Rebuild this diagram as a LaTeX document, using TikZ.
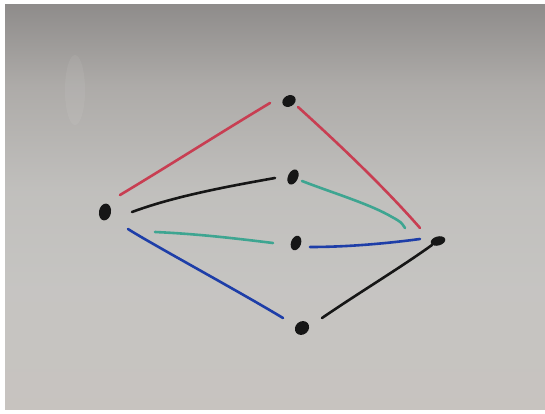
\documentclass[tikz,border=0pt]{standalone}
\usetikzlibrary{shapes.geometric,calc}
\definecolor{mred}{RGB}{200,62,82}
\definecolor{mteal}{RGB}{62,165,145}
\definecolor{mblue}{RGB}{30,62,168}
\definecolor{mblack}{RGB}{22,22,22}
\pgfdeclareverticalshading{board}{100bp}{
  rgb(0bp)=(0.78,0.765,0.75);
  rgb(25bp)=(0.78,0.765,0.75);
  rgb(40bp)=(0.775,0.77,0.76);
  rgb(52bp)=(0.755,0.75,0.74);
  rgb(65bp)=(0.68,0.67,0.66);
  rgb(75bp)=(0.56,0.55,0.545);
  rgb(100bp)=(0.56,0.55,0.545)}
\tikzset{
  dot/.style={ellipse, fill=mblack, draw=none, inner sep=0pt},
  stroke/.style={line width=2.6pt, line cap=round, line join=round},
  redline/.style={stroke, draw=mred},
  tealline/.style={stroke, draw=mteal},
  blueline/.style={stroke, draw=mblue},
  blackline/.style={stroke, draw=mblack}
}
\begin{document}
\begin{tikzpicture}[x=1pt,y=-1pt]
\useasboundingbox (0,0) rectangle (545,414);
\fill[white] (0,0) rectangle (545,414);
\shade[shading=board] (5,5) rectangle (545,409);
% faint smudge
\fill[white, opacity=0.06] (75,90) ellipse (10pt and 35pt);

% vertices
\node[dot, minimum width=17pt, minimum height=12pt, rotate=80] (L) at (105,212) {};
\node[dot, minimum width=14pt, minimum height=11pt, rotate=30] (T) at (289,101) {};
\node[dot, minimum width=16pt, minimum height=10pt, rotate=65] (M1) at (293,177) {};
\node[dot, minimum width=15pt, minimum height=10pt, rotate=70] (M2) at (296,243) {};
\node[dot, minimum width=15pt, minimum height=13pt, rotate=40] (B) at (302,328) {};
\node[dot, minimum width=15pt, minimum height=9pt, rotate=15] (R) at (438,241) {};

% edges
\draw[redline] ($(L)+(15,-17)$) .. controls (170,165) and (220,133) .. ($(T)+(-19,2)$);
\draw[redline] ($(T)+(9,6)$) .. controls (340,145) and (385,188) .. ($(R)+(-18,-13)$);
\draw[blackline] ($(L)+(27,0)$) .. controls (175,196) and (230,186) .. ($(M1)+(-18,1)$);
\draw[tealline] ($(M1)+(9,4)$) .. controls (330,192) and (370,204) .. (392,217) .. controls (401,222) .. ($(R)+(-33,-13)$);
\draw[tealline] ($(L)+(50,20)$) .. controls (200,234) and (240,239) .. ($(M2)+(-23,0)$);
\draw[blueline] ($(M2)+(14,4)$) .. controls (350,247) and (390,243) .. ($(R)+(-18,-2)$);
\draw[blueline] ($(L)+(23,17)$) .. controls (148,242) and (240,292) .. ($(B)+(-19,-10)$);
\draw[blackline] ($(B)+(20,-10)$) .. controls (360,292) and (400,268) .. ($(R)+(-6,4)$);
\end{tikzpicture}
\end{document}
